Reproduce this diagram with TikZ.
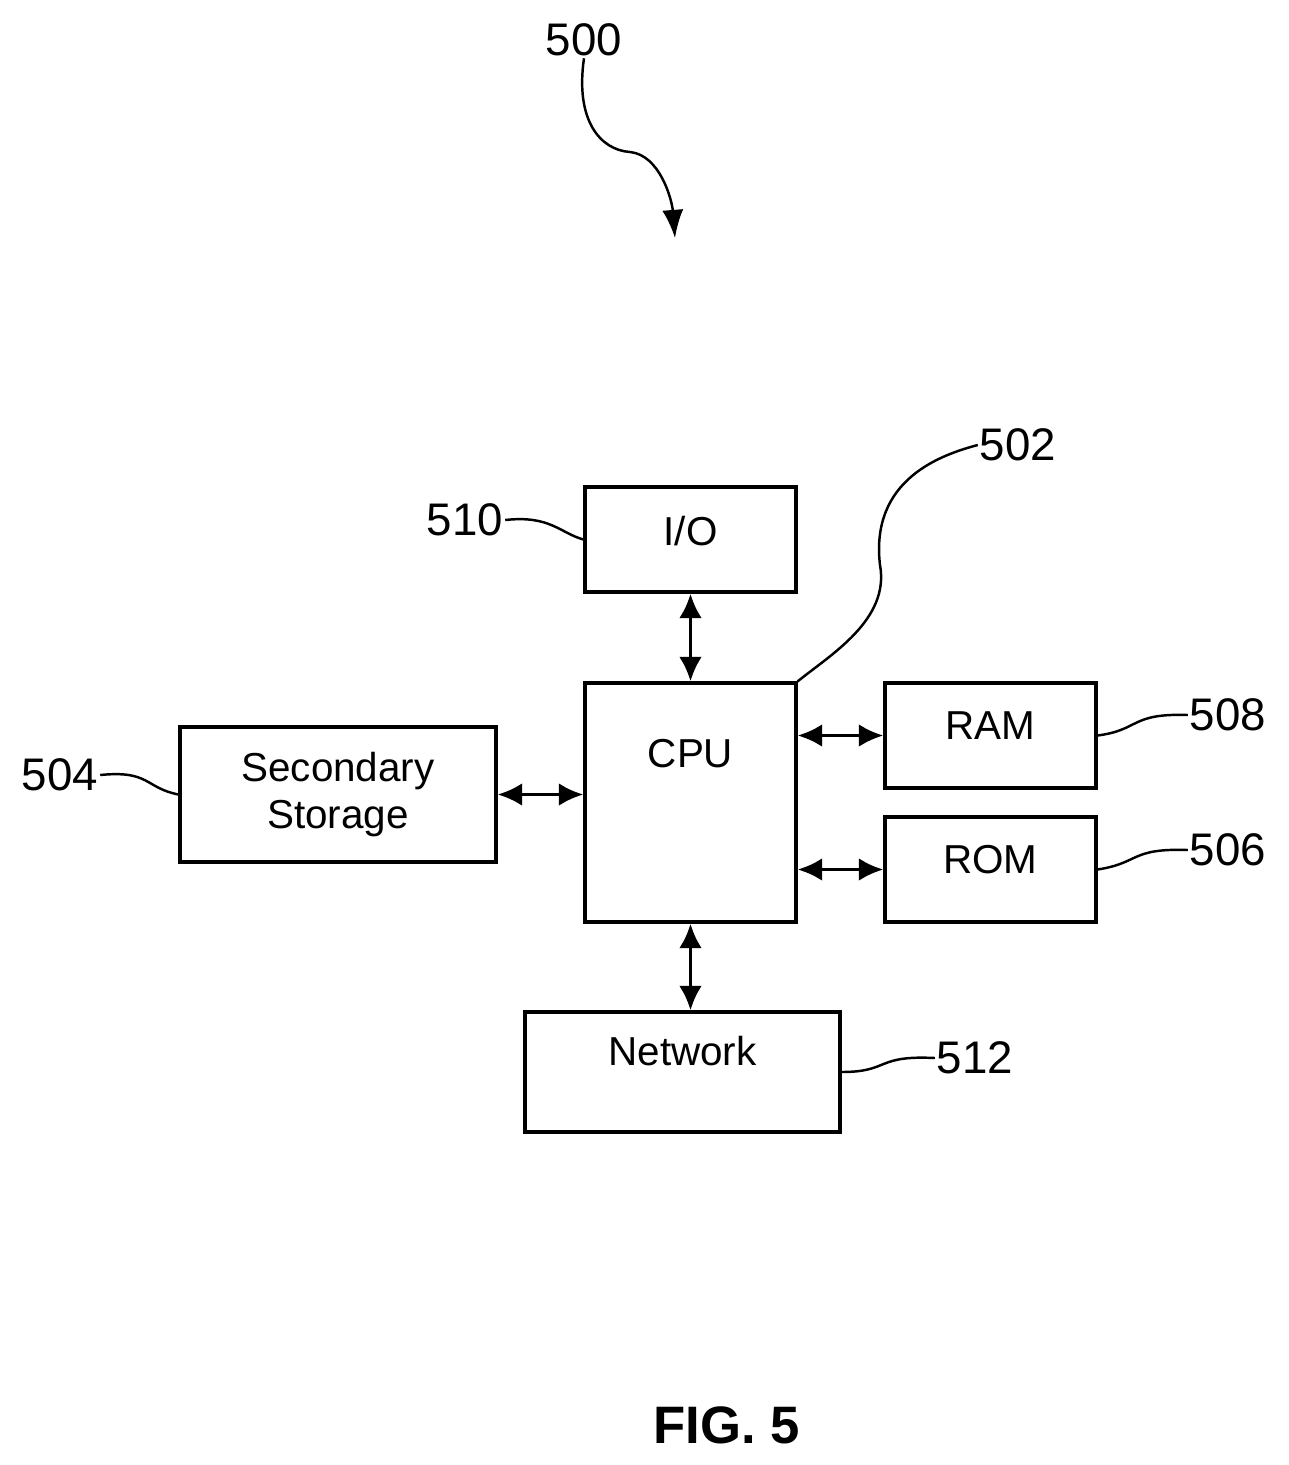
\documentclass[tikz,border=0pt]{standalone}
\usepackage{fontspec}
\setmainfont{Liberation Sans}
\usetikzlibrary{arrows.meta}
\tikzset{
  blk/.style={draw, line width=1.8pt, inner sep=0pt, font=\fontsize{23}{27}\selectfont},
  lbl/.style={inner sep=1pt, font=\fontsize{26}{30}\selectfont},
  link/.style={line width=2.2pt, {Latex[length=14pt,width=13pt]}-{Latex[length=14pt,width=13pt]}},
  lead/.style={line width=1.4pt}
}
\begin{document}
\begin{tikzpicture}[x=0.02cm, y=-0.02cm]
    \useasboundingbox (0,0) rectangle (1289,1465);

    % Define nodes
    \node[blk, minimum width=4.22cm, minimum height=2.1cm, text depth=0.35cm]  (io)  at (690.5,539.5) {I/O};
    \node[blk, minimum width=4.22cm, minimum height=4.78cm, text depth=1.95cm] (cpu) at (690.5,802.5) {CPU};
    \node[blk, minimum width=4.22cm, minimum height=2.1cm, text depth=0.4cm]   (ram) at (990.5,735.5) {RAM};
    \node[blk, minimum width=4.22cm, minimum height=2.1cm, text depth=0.4cm]   (rom) at (990.5,869.5) {ROM};
    \node[blk, minimum width=6.32cm, minimum height=2.7cm, align=center] (sec) at (338,794.5) {Secondary\\Storage};
    \node[blk, minimum width=6.3cm, minimum height=2.4cm, text depth=0.85cm] (net) at (682.5,1072) {Network};

    \node[lbl] (l500) at (584,40)   {500};
    \node[lbl] (l502) at (1018,445) {502};
    \node[lbl] (l510) at (465,520)  {510};
    \node[lbl] (l508) at (1228,715) {508};
    \node[lbl] (l506) at (1228,850) {506};
    \node[lbl] (l504) at (60,775)   {504};
    \node[lbl] (l512) at (975,1058) {512};
    \node[font=\bfseries\fontsize{30}{34}\selectfont] (fig) at (727,1425) {FIG. 5};

    % Connect the nodes
    \draw[link] (io.south) -- (cpu.north);
    \draw[link] (cpu.south) -- (cpu.south |- net.north);
    \draw[link] (sec.east) -- (sec.east -| cpu.west);
    \draw[link] (ram.west -| cpu.east) -- (ram.west);
    \draw[link] (rom.west -| cpu.east) -- (rom.west);

    % Leaders
    \coordinate (t500) at (675,238);
    \draw[lead, -{Latex[length=16pt,width=12pt]}] (l500.south) .. controls (575,120) and (600,150) .. (630,152) .. controls (660,155) and (672,200) .. (t500);
    \draw[lead] (cpu.north east) .. controls (830,655) and (890,620) .. (880,565) .. controls (870,480) and (940,455) .. (l502.west);
    \draw[lead] (l510.east) .. controls (550,515) and (560,533) .. (io.west);
    \draw[lead] (ram.east) .. controls (1140,730) and (1130,713) .. (l508.west);
    \draw[lead] (rom.east) .. controls (1140,863) and (1130,848) .. (l506.west);
    \draw[lead] (l504.east) .. controls (150,770) and (145,788) .. (sec.west);
    \draw[lead] (net.east) .. controls (890,1072) and (875,1055) .. (l512.west);
\end{tikzpicture}
\end{document}
